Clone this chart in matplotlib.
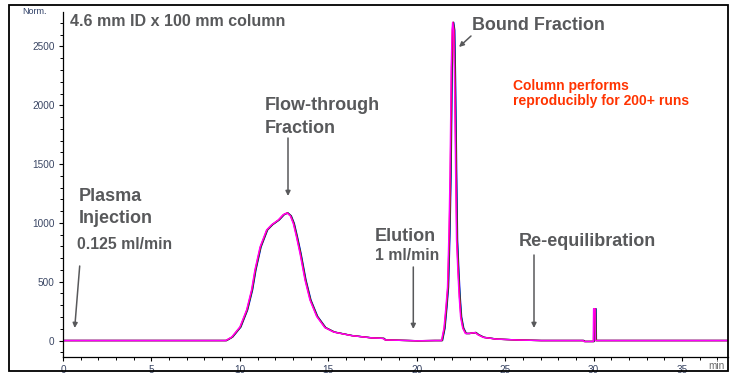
#Chromatogram of repeated plasma runs on a 4.6 x 100 mm column
import matplotlib
matplotlib.use('Agg')
import matplotlib.pyplot as plt
from matplotlib.patches import Rectangle
from matplotlib.ticker import MultipleLocator

W, H = 739, 376

# Signal trace (time in min, signal in Norm.)
time_min = [0, 9.2, 9.54, 10.0, 10.38, 10.66, 10.85, 11.14, 11.51, 11.8, 12.17, 12.45,
            12.66, 12.85, 13.02, 13.2, 13.4, 13.68, 13.96, 14.34, 14.8, 15.3, 16.3,
            17.4, 18.1, 18.2, 20.0, 21.0, 21.4, 21.54, 21.65, 21.74, 21.82, 21.88,
            21.92, 21.95, 22.0, 22.03, 22.09, 22.14, 22.2, 22.25, 22.33, 22.4, 22.48,
            22.6, 22.75, 22.95, 23.3, 23.45, 23.76, 24.5, 25.8, 27.0, 29.4, 29.45,
            29.98, 30.0, 30.08, 30.1, 37.6]
signal = [0, 0, 30, 115, 260, 430, 600, 795, 940, 985, 1025, 1070,
          1085, 1060, 995, 880, 740, 515, 345, 205, 110, 72, 42,
          23, 18, 5, -2, 0, 0, 105, 285, 455, 910, 1390,
          1900, 2320, 2640, 2705, 2640, 2185, 1420, 855, 575, 370, 200,
          105, 60, 60, 68, 50, 27, 12, 4, 0, 0, -8,
          -8, 270, 270, 0, 0]

# four overlaid runs, they only differ by a small retention shift
run_colors = ['blue', 'green', 'red', 'magenta']
run_shift_min = [0.06, 0.04, 0.02, 0.0]

x_ticks = [0, 5, 10, 15, 20, 25, 30, 35]
y_ticks = [0, 500, 1000, 1500, 2000, 2500]

plt.rcParams['font.family'] = ['Liberation Sans', 'DejaVu Sans']


def px(x, y):
    # pixel position in the picture -> figure fraction
    return (x / W, 1 - y / H)


fig = plt.figure(figsize=(W / 100, H / 100), dpi=100)
ax = fig.add_axes([63 / W, 1 - 357 / H, (728 - 63) / W, (357 - 12) / H])

for c, s in zip(run_colors, run_shift_min):
    ax.plot([t + s for t in time_min], signal, color=c, lw=1.0)

ax.set_xlim(0, 37.6)
ax.set_ylim(-140, 2793)
ax.set_xticks(x_ticks)
ax.set_yticks(y_ticks)
ax.xaxis.set_minor_locator(MultipleLocator(1))
ax.yaxis.set_minor_locator(MultipleLocator(100))
for side in ['top', 'right']:
    ax.spines[side].set_visible(False)
for side in ['left', 'bottom']:
    ax.spines[side].set_linewidth(0.9)
ax.tick_params(which='major', length=3, width=0.8, labelsize=7.2,
               labelcolor='#3a4664', pad=3)
ax.tick_params(which='minor', length=2.2, width=0.7)

# outer frame of the picture
x0, y0 = px(9, 371)
x1, y1 = px(728, 5)
fig.patches.append(Rectangle((x0, y0), x1 - x0, y1 - y0, transform=fig.transFigure,
                             fill=False, edgecolor='black', lw=1.3))

fig.text(*px(22, 11), 'Norm.', fontsize=6.5, color='#2e3f66', va='center')
fig.text(*px(708, 366), 'min', fontsize=7.2, color='#6a6a6a', va='center')

gray = '#58595b'
bold = dict(color=gray, fontweight='bold')
fig.text(*px(70, 26), '4.6 mm ID x 100 mm column', fontsize=11.5, **bold)
fig.text(*px(265, 110), 'Flow-through', fontsize=13, **bold)
fig.text(*px(265, 133), 'Fraction', fontsize=13, **bold)
fig.text(*px(79, 201), 'Plasma', fontsize=13, **bold)
fig.text(*px(79, 223), 'Injection', fontsize=13, **bold)
fig.text(*px(77, 249), '0.125 ml/min', fontsize=11.3, **bold)
fig.text(*px(375, 241), 'Elution', fontsize=13, **bold)
fig.text(*px(375, 260), '1 ml/min', fontsize=11.3, **bold)
fig.text(*px(472, 30), 'Bound Fraction', fontsize=12.9, **bold)
fig.text(*px(519, 246), 'Re-equilibration', fontsize=13, **bold)
fig.text(*px(513, 90), 'Column performs', fontsize=10, color='#ff3300', fontweight='bold')
fig.text(*px(513, 105), 'reproducibly for 200+ runs', fontsize=10, color='#ff3300',
         fontweight='bold')

arrows = [((79.7, 266), (74.7, 328)),
          ((288, 138), (288, 196)),
          ((413.3, 267), (413.3, 329)),
          ((534, 255), (534, 328)),
          ((471, 36), (459, 47))]
for start, end in arrows:
    ax.annotate('', xy=px(*end), xytext=px(*start), xycoords='figure fraction',
                textcoords='figure fraction',
                arrowprops=dict(arrowstyle='-|>', color=gray, lw=1.1, mutation_scale=7,
                                shrinkA=0, shrinkB=0))

fig.savefig('out.png', dpi=100)
